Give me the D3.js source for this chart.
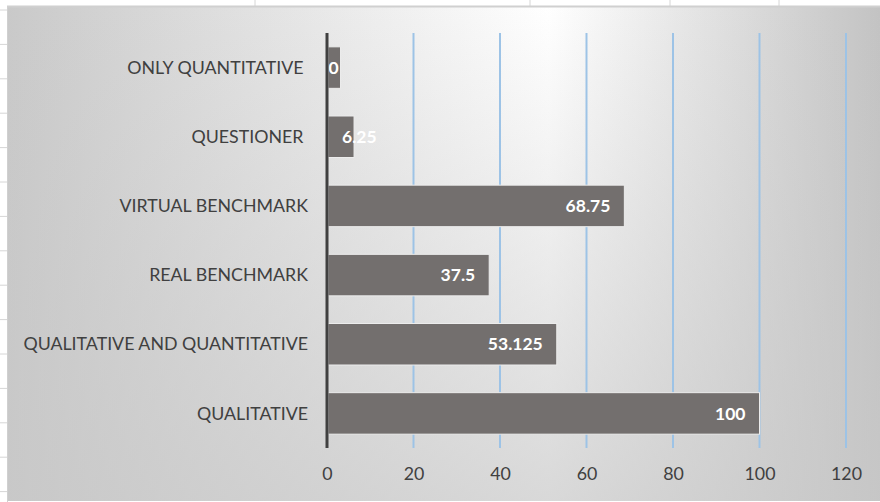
<!DOCTYPE html>
<html>
<head>
<meta charset="utf-8">
<style>
    body { margin: 0; background: #fff; }
    text { font-family: Lato, "Open Sans", sans-serif; }
</style>
</head>
<body>
<script src="https://cdnjs.cloudflare.com/ajax/libs/d3/7.8.5/d3.min.js"></script>
<script>
    // data, top to bottom as in the chart
    var categories = ["ONLY QUANTITATIVE ", "QUESTIONER ", "VIRTUAL BENCHMARK", "REAL BENCHMARK",
        "QUALITATIVE AND QUANTITATIVE", "QUALITATIVE"];
    var values = [3.125, 6.25, 68.75, 37.5, 53.125, 100];
    var valueLabels = ["0", "6.25", "68.75", "37.5", "53.125", "100"];
    var xTicks = [0, 20, 40, 60, 80, 100, 120];

    var width = 880, height = 502;

    var svg = d3.select("body").append("svg")
        .attr("width", width)
        .attr("height", height);

    var defs = svg.append("defs");
    var hg = defs.append("linearGradient").attr("id", "hg")
        .attr("x1", 0).attr("x2", 1).attr("y1", 0).attr("y2", 0);
    hg.append("stop").attr("offset", "0%").attr("stop-color", "#c9c9c9");
    hg.append("stop").attr("offset", "62%").attr("stop-color", "#ffffff");
    hg.append("stop").attr("offset", "100%").attr("stop-color", "#c3c3c3");
    var vg = defs.append("linearGradient").attr("id", "vg")
        .attr("x1", 0).attr("x2", 0).attr("y1", 0).attr("y2", 1);
    vg.append("stop").attr("offset", "0%").attr("stop-color", "#c8c8c8").attr("stop-opacity", 0);
    vg.append("stop").attr("offset", "100%").attr("stop-color", "#c8c8c8").attr("stop-opacity", 0.7);

    // spreadsheet behind the chart
    var sheet = svg.append("g");
    [255, 530, 670, 779].forEach(function (x) {
        sheet.append("line").attr("x1", x).attr("x2", x).attr("y1", 0).attr("y2", 7)
            .attr("stroke", "#d6d6d6");
    });
    d3.range(10, 502, 34.4).forEach(function (y) {
        sheet.append("line").attr("x1", 0).attr("x2", 7).attr("y1", y).attr("y2", y)
            .attr("stroke", "#d6d6d6");
    });

    // chart area
    svg.append("rect").attr("x", 7).attr("y", 6).attr("width", 873).attr("height", 495)
        .attr("fill", "url(#hg)");
    svg.append("rect").attr("x", 7).attr("y", 6).attr("width", 873).attr("height", 495)
        .attr("fill", "url(#vg)");
    svg.append("line").attr("x1", 7).attr("x2", 880).attr("y1", 6.5).attr("y2", 6.5)
        .attr("stroke", "#d0d0d0").attr("stroke-width", 2);
    svg.append("line").attr("x1", 7.5).attr("x2", 7.5).attr("y1", 6).attr("y2", 502)
        .attr("stroke", "#d0d0d0");

    var x = d3.scaleLinear().domain([0, 120]).range([327, 846]);
    var y = d3.scaleBand().domain(categories).range([33, 448])
        .paddingInner(0.4).paddingOuter(0.2);

    // vertical gridlines
    svg.append("g").selectAll("line")
        .data(xTicks.filter(function (d) { return d > 0; }))
        .enter().append("line")
        .attr("x1", function (d) { return x(d); })
        .attr("x2", function (d) { return x(d); })
        .attr("y1", 33).attr("y2", 448)
        .attr("stroke", "#9dc3e6").attr("stroke-width", 2);

    // bars
    svg.append("g").selectAll("rect")
        .data(values)
        .enter().append("rect")
        .attr("x", x(0) + 1)
        .attr("y", function (d, i) { return y(categories[i]); })
        .attr("width", function (d) { return x(d) - x(0) - 1; })
        .attr("height", y.bandwidth())
        .attr("fill", "#736f6e")
        .attr("stroke", "#ececec")
        .attr("stroke-width", 1);

    // value labels
    svg.append("g").selectAll("text")
        .data(values)
        .enter().append("text")
        .attr("x", function (d) { return x(d) - x(0) > 60 ? x(d) - 14 : x(d) - 12; })
        .attr("y", function (d, i) { return y(categories[i]) + y.bandwidth() / 2; })
        .attr("dy", "0.35em")
        .attr("text-anchor", function (d) { return x(d) - x(0) > 60 ? "end" : "start"; })
        .attr("fill", "#ffffff")
        .attr("font-weight", "bold")
        .attr("font-size", 17.5)
        .text(function (d, i) { return valueLabels[i]; });

    // category labels
    svg.append("g").selectAll("text")
        .data(categories)
        .enter().append("text")
        .attr("x", 308)
        .attr("y", function (d) { return y(d) + y.bandwidth() / 2; })
        .attr("dy", "0.35em")
        .attr("text-anchor", "end")
        .style("white-space", "pre")
        .attr("fill", "#404040")
        .attr("font-size", 17.8)
        .text(function (d) { return d; });

    // x axis
    var xAxis = svg.append("g")
        .attr("transform", "translate(0,448)")
        .call(d3.axisBottom(x).tickValues(xTicks).tickSize(0).tickPadding(19));
    xAxis.select(".domain").remove();
    xAxis.selectAll("text")
        .attr("fill", "#404040")
        .attr("font-size", 17.8)
        .attr("font-family", "Lato, 'Open Sans', sans-serif");

    // category axis line
    svg.append("line")
        .attr("x1", x(0)).attr("x2", x(0))
        .attr("y1", 33).attr("y2", 448)
        .attr("stroke", "#404040").attr("stroke-width", 3);
</script>
</body>
</html>
